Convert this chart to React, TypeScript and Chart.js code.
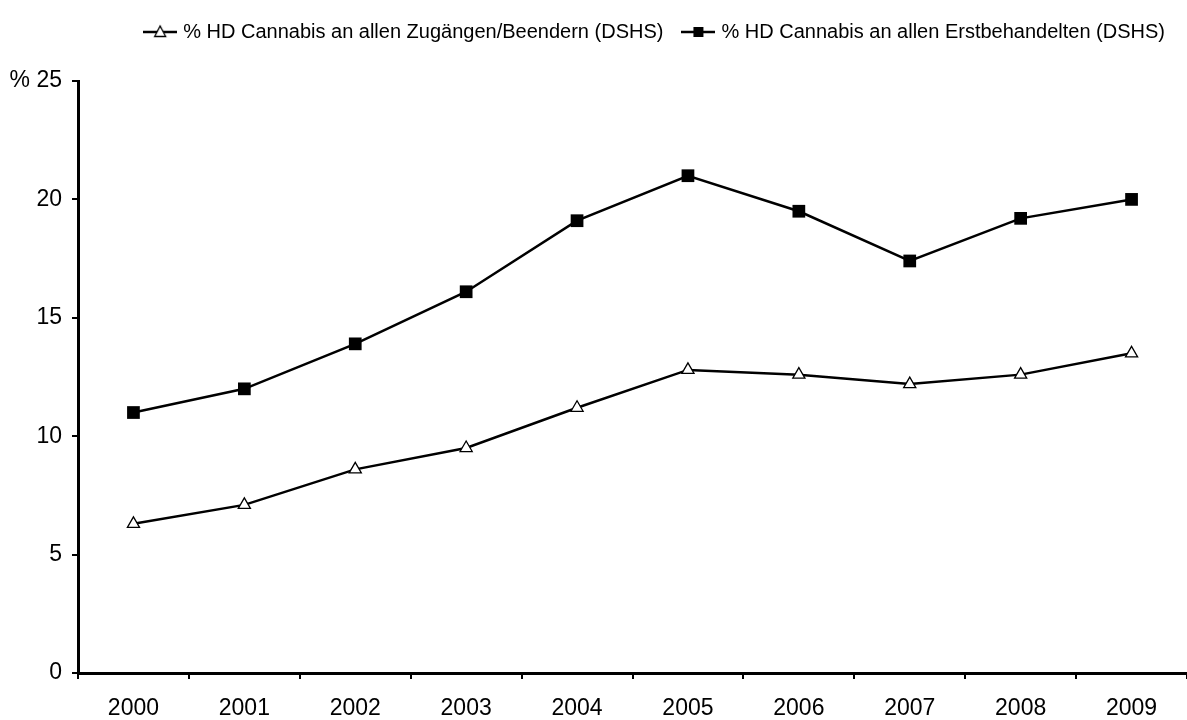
import React, { useEffect, useRef } from 'react';
import { Chart, registerables } from 'chart.js';

Chart.register(...registerables);

const years = ['2000', '2001', '2002', '2003', '2004', '2005', '2006', '2007', '2008', '2009'];
const allClientsPct = [6.3, 7.1, 8.6, 9.5, 11.2, 12.8, 12.6, 12.2, 12.6, 13.5];
const firstTreatedPct = [11.0, 12.0, 13.9, 16.1, 19.1, 21.0, 19.5, 17.4, 19.2, 20.0];
const seriesLabels = [
  '% HD Cannabis an allen Zugängen/Beendern (DSHS)',
  '% HD Cannabis an allen Erstbehandelten (DSHS)',
];
const yMin = 0;
const yMax = 25;
const yStep = 5;

const FONT = "'Liberation Sans', Arial, sans-serif";

function makeLegendSample(kind: 'triangle' | 'square'): HTMLCanvasElement {
  const c = document.createElement('canvas');
  c.width = 34;
  c.height = 16;
  const ctx = c.getContext('2d')!;
  ctx.strokeStyle = '#000';
  ctx.lineWidth = 2.5;
  ctx.beginPath();
  ctx.moveTo(0, 8);
  ctx.lineTo(34, 8);
  ctx.stroke();
  if (kind === 'square') {
    ctx.fillStyle = '#000';
    ctx.fillRect(12, 3, 10, 10);
  } else {
    ctx.fillStyle = '#fff';
    ctx.lineWidth = 1.3;
    ctx.beginPath();
    ctx.moveTo(17, 2);
    ctx.lineTo(22.5, 12.5);
    ctx.lineTo(11.5, 12.5);
    ctx.closePath();
    ctx.fill();
    ctx.stroke();
  }
  return c;
}

export default function App() {
  const ref = useRef<HTMLCanvasElement | null>(null);

  useEffect(() => {
    document.body.style.margin = '0';
    const canvas = ref.current;
    if (!canvas) return;
    const samples = [makeLegendSample('triangle'), makeLegendSample('square')];
    const chart = new Chart(canvas, {
      type: 'line',
      data: {
        labels: years,
        datasets: [
          {
            label: seriesLabels[0],
            data: allClientsPct,
            borderColor: '#000',
            borderWidth: 2.5,
            pointStyle: 'triangle',
            pointRadius: 7,
            pointBackgroundColor: '#fff',
            pointBorderColor: '#000',
            pointBorderWidth: 1.3,
            tension: 0,
          },
          {
            label: seriesLabels[1],
            data: firstTreatedPct,
            borderColor: '#000',
            borderWidth: 2.5,
            pointStyle: 'rect',
            pointRadius: 9,
            pointBackgroundColor: '#000',
            pointBorderColor: '#000',
            pointBorderWidth: 0,
            tension: 0,
          },
        ],
      },
      options: {
        responsive: false,
        animation: false,
        devicePixelRatio: 1,
        events: [],
        layout: { autoPadding: false, padding: { top: 0, left: 0, right: 0, bottom: 0 } },
        plugins: {
          tooltip: { enabled: false },
          title: {
            display: true,
            text: ' ',
            font: { size: 1, lineHeight: 1 },
            padding: { top: 0, bottom: 28 },
          },
          legend: {
            display: true,
            position: 'top',
            align: 'end',
            weight: 3000,
            labels: {
              color: '#000',
              font: { family: FONT, size: 20 },
              usePointStyle: true,
              pointStyleWidth: 26,
              padding: 22,
              generateLabels: (ch: any) => {
                const base = Chart.defaults.plugins.legend.labels.generateLabels(ch);
                return base.map((l: any, i: number) => ({ ...l, pointStyle: samples[i] }));
              },
            },
          },
        },
        scales: {
          x: {
            type: 'category',
            offset: true,
            afterFit: (s: any) => {
              s.height = 47;
              s.paddingLeft = 0;
              s.paddingRight = 0;
            },
            grid: {
              display: true,
              offset: true,
              drawOnChartArea: false,
              drawTicks: true,
              tickLength: 6,
              color: '#000',
              lineWidth: 2,
            },
            border: { display: true, color: '#000', width: 3 },
            ticks: {
              color: '#000',
              font: { family: FONT, size: 23 },
              padding: 16,
              maxRotation: 0,
              autoSkip: false,
            },
          },
          y: {
            min: yMin,
            max: yMax,
            afterFit: (s: any) => {
              s.width = 78;
            },
            grid: {
              display: true,
              drawOnChartArea: false,
              drawTicks: true,
              tickLength: 6,
              color: '#000',
              lineWidth: 2,
            },
            border: { display: true, color: '#000', width: 3 },
            ticks: {
              stepSize: yStep,
              color: '#000',
              font: { family: FONT, size: 23 },
              padding: 10,
              callback: (v: any) => (Number(v) === yMax ? '% ' + v : String(v)),
            },
          },
        },
      },
    } as any);
    return () => chart.destroy();
  }, []);

  return (
    <div style={{ width: 1187, height: 720, background: '#fff' }}>
      <canvas ref={ref} width={1187} height={720} style={{ display: 'block' }} />
    </div>
  );
}
